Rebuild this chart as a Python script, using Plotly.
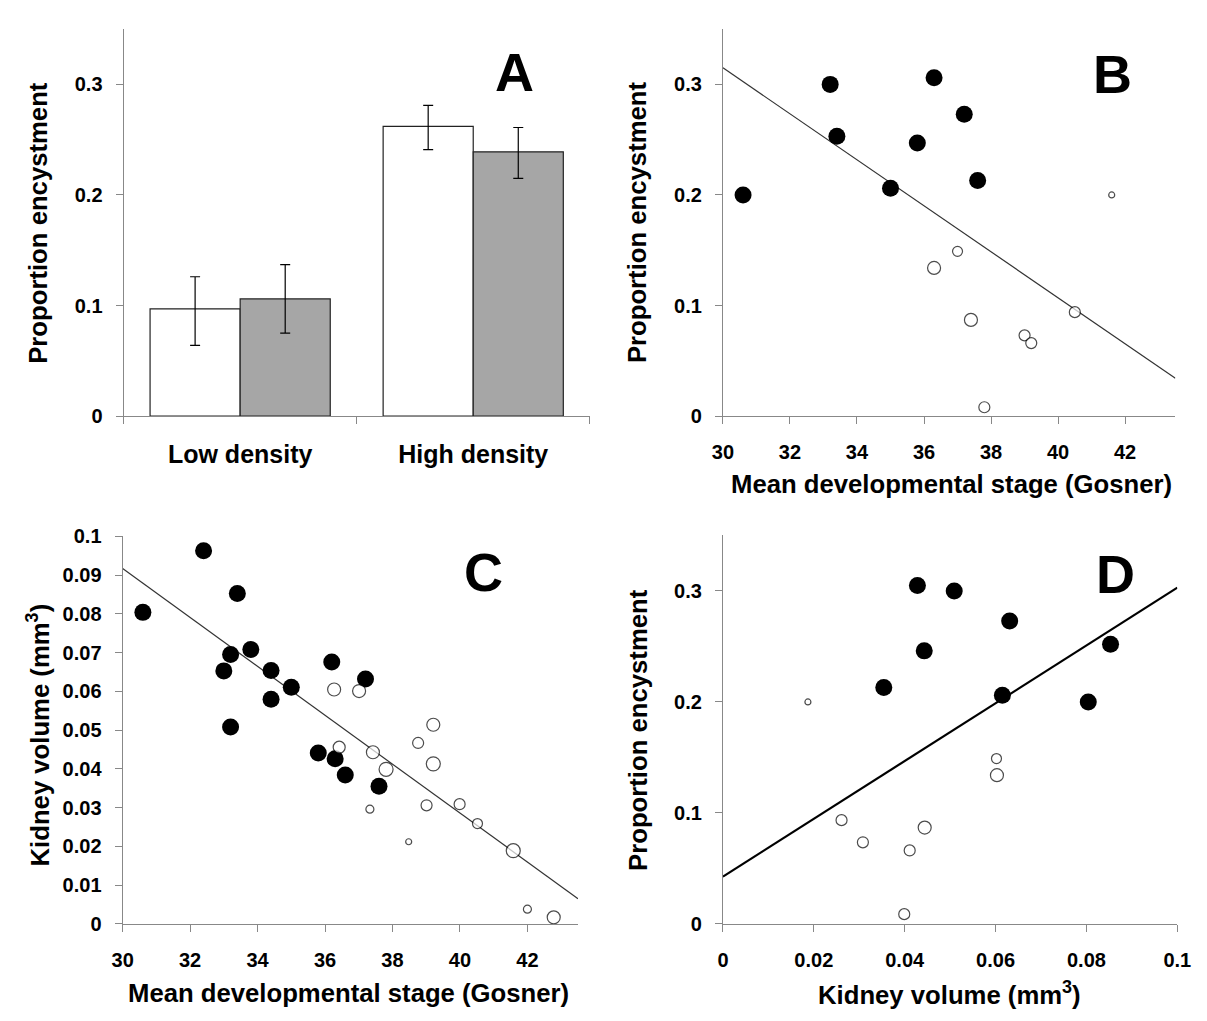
import plotly.graph_objects as go

# ---------------- Data ----------------
# Panel A
categories = ["Low density", "High density"]
white_vals = [0.097, 0.262]
white_err_plus = [0.029, 0.019]
white_err_minus = [0.033, 0.021]
grey_vals = [0.106, 0.239]
grey_err_plus = [0.031, 0.022]
grey_err_minus = [0.031, 0.024]

# Panel B: stage vs proportion encystment
B_filled_stage = [30.6, 33.2, 33.4, 35.0, 35.8, 36.3, 37.2, 37.6]
B_filled_prop = [0.200, 0.300, 0.253, 0.206, 0.247, 0.306, 0.273, 0.213]
B_open_stage = [36.3, 37.0, 37.4, 37.8, 39.0, 39.2, 40.5, 41.6]
B_open_prop = [0.134, 0.149, 0.087, 0.008, 0.073, 0.066, 0.094, 0.200]
B_open_size = [13, 10, 13, 11, 11, 11, 11, 6]
B_fit = {"slope": -0.0208, "intercept": 0.939}

# Panel C: stage vs kidney volume
C_filled_stage = [30.6, 32.4, 33.4, 33.2, 33.0, 33.8, 34.4, 35.0, 34.4, 33.2,
                  36.2, 37.2, 35.8, 36.3, 36.6, 37.6]
C_filled_vol = [0.0804, 0.0963, 0.0853, 0.0695, 0.0653, 0.0708, 0.0654, 0.0611,
                0.0580, 0.0508, 0.0676, 0.0632, 0.0441, 0.0426, 0.0384, 0.0355]
C_open_stage = [36.27, 37.01, 36.42, 37.42, 37.81, 37.33, 38.76, 39.21, 39.21,
                39.01, 39.99, 40.52, 38.48, 41.58, 42.0, 42.78]
C_open_vol = [0.0605, 0.0601, 0.0456, 0.0443, 0.0399, 0.0296, 0.0467, 0.0514,
              0.0413, 0.0306, 0.0309, 0.0259, 0.0212, 0.0189, 0.0038, 0.0017]
C_open_size = [13, 13, 12, 13, 14, 8, 11, 13, 14, 11, 11, 10, 6, 14, 8, 13]
C_fit = {"slope": -0.00631, "intercept": 0.281}

# Panel D: kidney volume vs proportion encystment
D_filled_vol = [0.0428, 0.0509, 0.0631, 0.0443, 0.0354, 0.0615, 0.0804, 0.0853]
D_filled_prop = [0.305, 0.300, 0.273, 0.246, 0.213, 0.206, 0.200, 0.252]
D_open_vol = [0.0187, 0.0602, 0.0603, 0.0261, 0.0308, 0.0444, 0.0411, 0.0399]
D_open_prop = [0.200, 0.149, 0.134, 0.0935, 0.0735, 0.0868, 0.0662, 0.0088]
D_open_size = [6, 10, 13, 11, 11, 13, 11, 11]
D_fit = {"slope": 2.604, "intercept": 0.0426}

# Tick labels
prop_ticks = [0, 0.1, 0.2, 0.3]
prop_ticktext = ["0", "0.1", "0.2", "0.3"]
stage_ticks = [30, 32, 34, 36, 38, 40, 42]
stage_ticktext = ["30", "32", "34", "36", "38", "40", "42"]
vol_ticks = [0, 0.01, 0.02, 0.03, 0.04, 0.05, 0.06, 0.07, 0.08, 0.09, 0.1]
vol_ticktext = ["0", "0.01", "0.02", "0.03", "0.04", "0.05", "0.06", "0.07", "0.08", "0.09", "0.1"]
volx_ticks = [0, 0.02, 0.04, 0.06, 0.08, 0.1]
volx_ticktext = ["0", "0.02", "0.04", "0.06", "0.08", "0.1"]

stage_range = [30, 43.5]
prop_range = [0, 0.35]
vol_range = [0, 0.1]
volx_range = [0, 0.1]

# ---------------- Layout helpers ----------------
W, H = 1207, 1021
FONT = "Liberation Sans, Arial, sans-serif"
AX_COL = "#888888"


def px_x(p):
    return p / W


def px_y(p):
    return 1 - p / H


def xd(p0, p1):
    return [px_x(p0), px_x(p1)]


def yd(top, bottom):
    return [px_y(bottom), px_y(top)]


fig = go.Figure()

filled_marker = dict(color="black", size=17, line=dict(color="black", width=0))


def open_marker(sizes):
    return dict(color="white", size=sizes, line=dict(color="black", width=1.2))


# Panel A bars
fig.add_trace(go.Bar(
    x=categories, y=white_vals, xaxis="x", yaxis="y",
    marker=dict(color="white", line=dict(color="#222222", width=1.2)),
    error_y=dict(type="data", array=white_err_plus, arrayminus=white_err_minus,
                 color="black", thickness=1.2, width=5),
    showlegend=False))
fig.add_trace(go.Bar(
    x=categories, y=grey_vals, xaxis="x", yaxis="y",
    marker=dict(color="#a6a6a6", line=dict(color="#222222", width=1.2)),
    error_y=dict(type="data", array=grey_err_plus, arrayminus=grey_err_minus,
                 color="black", thickness=1.2, width=5),
    showlegend=False))


def fit_line(fit, rng, xa, ya, width, color):
    xs = list(rng)
    ys = [fit["intercept"] + fit["slope"] * v for v in xs]
    fig.add_trace(go.Scatter(x=xs, y=ys, mode="lines", xaxis=xa, yaxis=ya,
                             line=dict(color=color, width=width),
                             showlegend=False, hoverinfo="skip"))


# Panel B
fit_line(B_fit, stage_range, "x2", "y2", 1.2, "#333333")
fig.add_trace(go.Scatter(x=B_filled_stage, y=B_filled_prop, mode="markers",
                         xaxis="x2", yaxis="y2", marker=filled_marker, showlegend=False))
fig.add_trace(go.Scatter(x=B_open_stage, y=B_open_prop, mode="markers",
                         xaxis="x2", yaxis="y2", marker=open_marker(B_open_size), showlegend=False))

# Panel C
fit_line(C_fit, stage_range, "x3", "y3", 1.2, "#333333")
fig.add_trace(go.Scatter(x=C_filled_stage, y=C_filled_vol, mode="markers",
                         xaxis="x3", yaxis="y3", marker=filled_marker, showlegend=False))
fig.add_trace(go.Scatter(x=C_open_stage, y=C_open_vol, mode="markers",
                         xaxis="x3", yaxis="y3", marker=open_marker(C_open_size), showlegend=False))

# Panel D
fit_line(D_fit, volx_range, "x4", "y4", 2.2, "black")
fig.add_trace(go.Scatter(x=D_filled_vol, y=D_filled_prop, mode="markers",
                         xaxis="x4", yaxis="y4", marker=filled_marker, showlegend=False))
fig.add_trace(go.Scatter(x=D_open_vol, y=D_open_prop, mode="markers",
                         xaxis="x4", yaxis="y4", marker=open_marker(D_open_size), showlegend=False))

tickfont = dict(family=FONT, size=20, color="black", weight="bold")
base_axis = dict(showline=True, linecolor=AX_COL, linewidth=1.2, ticks="outside",
                 tickcolor=AX_COL, ticklen=7, tickwidth=1.2, showgrid=False,
                 zeroline=False, tickfont=tickfont, ticklabeloverflow="allow")


def yaxis(domain, rng, tv, tt, anchor):
    d = dict(base_axis)
    d.update(domain=domain, range=rng, tickvals=tv, ticktext=tt, anchor=anchor,
             ticklabelstandoff=9)
    return d


def xaxis(domain, rng, tv, tt, anchor):
    d = dict(base_axis)
    d.update(domain=domain, range=rng, tickvals=tv, ticktext=tt, anchor=anchor,
             ticklabelstandoff=11)
    return d


xaA = dict(base_axis)
xaA.update(domain=xd(115, 591), anchor="y", type="category", tickson="boundaries",
           range=[-0.5, 1.5], ticklabelstandoff=16,
           tickfont=dict(family=FONT, size=25, color="black", weight="bold"))

fig.update_layout(
    width=W, height=H,
    margin=dict(l=0, r=0, t=0, b=0),
    paper_bgcolor="white", plot_bgcolor="white",
    barmode="group", bargap=0.227, bargroupgap=0,
    showlegend=False,
    font=dict(family=FONT, color="black"),
    xaxis=xaA,
    yaxis=yaxis(yd(18.5, 414), prop_range, prop_ticks, prop_ticktext, "x"),
    xaxis2=xaxis(xd(727, 1189), stage_range, stage_ticks, stage_ticktext, "y2"),
    yaxis2=yaxis(yd(18.5, 414), prop_range, prop_ticks, prop_ticktext, "x2"),
    xaxis3=xaxis(xd(114, 579), stage_range, stage_ticks, stage_ticktext, "y3"),
    yaxis3=yaxis(yd(537, 933), vol_range, vol_ticks, vol_ticktext, "x3"),
    xaxis4=xaxis(xd(727, 1191), volx_range, volx_ticks, volx_ticktext, "y4"),
    yaxis4=yaxis(yd(536, 933), prop_range, prop_ticks, prop_ticktext, "x4"),
)

title_font = dict(family=FONT, size=25.7, color="black", weight="bold")
letter_font = dict(family=FONT, size=54, color="black", weight="bold")


def ann(text, px, py, font, angle=0):
    fig.add_annotation(text=text, x=px_x(px), y=px_y(py), xref="paper", yref="paper",
                       showarrow=False, font=font, textangle=angle,
                       xanchor="center", yanchor="middle")


# Axis titles
ann("Proportion encystment", 28, 216, title_font, -90)
ann("Proportion encystment", 640, 216, title_font, -90)
ann("Kidney volume (mm<sup>3</sup>)", 28, 740, title_font, -90)
ann("Proportion encystment", 640, 735, title_font, -90)
ann("Mean developmental stage (Gosner)", 960, 483, title_font)
ann("Mean developmental stage (Gosner)", 345, 1004, title_font)
ann("Kidney volume (mm<sup>3</sup>)", 958, 1004, title_font)

# Panel letters
ann("A", 514, 62, letter_font)
ann("B", 1125, 64, letter_font)
ann("C", 482, 573, letter_font)
ann("D", 1128, 575, letter_font)

page_css = (
    "var s=document.createElement('style');"
    "s.innerHTML='html,body{margin:0;padding:0;overflow:hidden;}';"
    "document.head.appendChild(s);"
)
fig.write_html("out.html", post_script=page_css, config={"displayModeBar": False})
